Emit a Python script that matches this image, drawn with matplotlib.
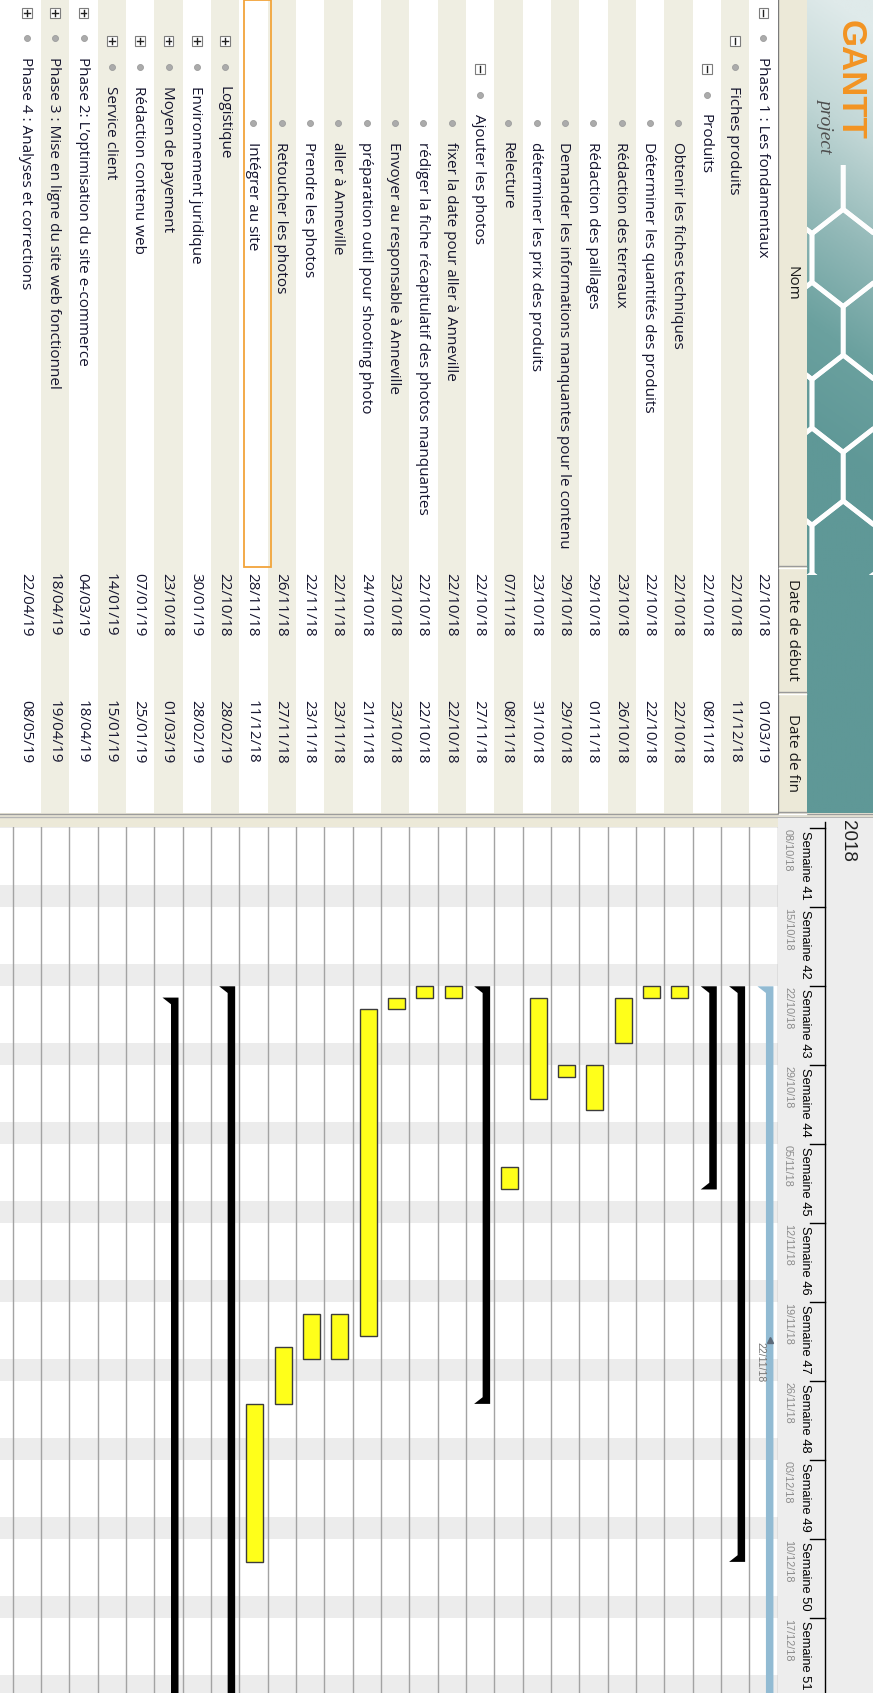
import datetime as dt
import numpy as np
import matplotlib
matplotlib.use('Agg')
import matplotlib.pyplot as plt
import matplotlib.dates as mdates
from matplotlib.patches import Rectangle, Polygon
from matplotlib.colors import LinearSegmentedColormap

# ---------------- data ----------------
task_names = [
    "Phase 1 : Les fondamentaux",
    "Fiches produits",
    "Produits",
    "Obtenir les fiches techniques",
    "Déterminer les quantités des produits",
    "Rédaction des terreaux",
    "Rédaction des paillages",
    "Demander les informations manquantes pour le contenu",
    "déterminer les prix des produits",
    "Relecture",
    "Ajouter les photos",
    "fixer la date pour aller à Anneville",
    "rédiger la fiche récapitulatif des photos manquantes",
    "Envoyer au responsable à Anneville",
    "préparation outil pour shooting photo",
    "aller à Anneville",
    "Prendre les photos",
    "Retoucher les photos",
    "Intégrer au site",
    "Logistique",
    "Environnement juridique",
    "Moyen de payement",
    "Rédaction contenu web",
    "Service client",
    "Phase 2: L\u2019optimisation du site e-commerce",
    "Phase 3 : Mise en ligne du site web fonctionnel",
    "Phase 4 : Analyses et corrections",
]
start_dates = ["22/10/18", "22/10/18", "22/10/18", "22/10/18", "22/10/18", "23/10/18",
               "29/10/18", "29/10/18", "23/10/18", "07/11/18", "22/10/18", "22/10/18",
               "22/10/18", "23/10/18", "24/10/18", "22/11/18", "22/11/18", "26/11/18",
               "28/11/18", "22/10/18", "30/01/19", "23/10/18", "07/01/19", "14/01/19",
               "04/03/19", "18/04/19", "22/04/19"]
end_dates = ["01/03/19", "11/12/18", "08/11/18", "22/10/18", "22/10/18", "26/10/18",
             "01/11/18", "29/10/18", "31/10/18", "08/11/18", "27/11/18", "22/10/18",
             "22/10/18", "23/10/18", "21/11/18", "23/11/18", "23/11/18", "27/11/18",
             "11/12/18", "28/02/19", "28/02/19", "01/03/19", "25/01/19", "15/01/19",
             "18/04/19", "19/04/19", "08/05/19"]
# bar starts as drawn in the chart (a few bars begin earlier than the table shows)
bar_start_dates = ["22/10/18", "22/10/18", "22/10/18", "22/10/18", "22/10/18", "23/10/18",
                   "29/10/18", "29/10/18", "23/10/18", "07/11/18", "22/10/18", "22/10/18",
                   "22/10/18", "23/10/18", "24/10/18", "20/11/18", "20/11/18", "23/11/18",
                   "28/11/18", "22/10/18", "30/01/19", "23/10/18", "07/01/19", "14/01/19",
                   "04/03/19", "18/04/19", "22/04/19"]
levels = [0, 1, 2, 3, 3, 3, 3, 3, 3, 3, 2, 3, 3, 3, 3, 3, 3, 3, 3, 1, 1, 1, 1, 1, 0, 0, 0]
# 'open' = expanded summary, 'closed' = collapsed summary, '' = leaf task
node_state = ['open', 'open', 'open', '', '', '', '', '', '', '', 'open', '', '', '', '', '',
              '', '', '', 'closed', 'closed', 'closed', 'closed', 'closed', 'closed',
              'closed', 'closed']
column_headers = ["Nom", "Date de début", "Date de fin"]
marker_date = "22/11/18"
year_label = "2018"
selected_row = 18

# ---------------- layout constants ----------------
W, H, DPI = 873, 1693, 100
ROW_PX = 28.33
ROW0_TOP = 777.6
XL = (ROW0_TOP / ROW_PX - 0.5, -0.5)
TABLE_BOTTOM = 813
HEAD_TOP = 818
CHART_TOP = 827
DAY_PX = 11.286
ORIGIN = dt.datetime(2018, 10, 8)
ORIGIN_PX = 828.3

FAM = ['Open Sans', 'DejaVu Sans']
FAM2 = ['Liberation Sans', 'DejaVu Sans']
TXT = '#15152e'


def pdate(s):
    return dt.datetime.strptime(s, "%d/%m/%y")


def num(d):
    return mdates.date2num(d)


def date_at_px(p):
    return num(ORIGIN) + (p - ORIGIN_PX) / DAY_PX


fig = plt.figure(figsize=(W / DPI, H / DPI), dpi=DPI)
fig.patch.set_facecolor('white')

# ---------------- background / decorations ----------------
bg = fig.add_axes([0, 0, 1, 1], zorder=0)
bg.set_xlim(0, W)
bg.set_ylim(H, 0)
bg.axis('off')

yy, xx = np.mgrid[0:813:400j, 807:873:40j]
v = np.clip(yy / 450 - (xx - 807) / 66 * 0.10 + 0.04, 0, 1)
teal = LinearSegmentedColormap.from_list(
    'teal', ['#dfeaea', '#c2d7d6', '#93b9b8', '#6ba19f', '#5f9897'])
bg.imshow(v, extent=(807, 873, 813, 0), cmap=teal, vmin=0, vmax=1,
          aspect='auto', origin='upper', zorder=1, interpolation='bilinear')

clip = Rectangle((807, 165), 66, 410, transform=bg.transData)
r = 36
for rr in range(-1, 8):
    for cc in range(-1, 3):
        cx = 812 + cc * r * np.sqrt(3) + (rr % 2) * r * np.sqrt(3) / 2
        cy = 185 + rr * r * 1.5 * 1.35
        ang = np.deg2rad(np.arange(6) * 60 + 30)
        verts = np.column_stack([cx + r * np.cos(ang), cy + 1.35 * r * np.sin(ang)])
        hp = Polygon(verts, closed=True, fill=False, ec='white', lw=3.4,
                     alpha=0.95, zorder=2)
        bg.add_patch(hp)
        hp.set_clip_path(clip)

bg.text(850, 20, "GANTT", rotation=-90, ha='center', va='top', fontsize=25,
        fontweight='bold', color='#f39422', family=FAM2, zorder=3)
bg.text(826, 98, "project", rotation=-90, ha='center', va='top', fontsize=14,
        style='italic', color='#4d4d4d', family=['Liberation Serif', 'DejaVu Serif'],
        zorder=3)

# table header strip
bg.add_patch(Rectangle((ROW0_TOP, 0), 807 - ROW0_TOP, TABLE_BOTTOM, fc='#ece9d8',
                       ec='none', zorder=1))
bg.plot([778.3, 778.3], [0, TABLE_BOTTOM], color='#7a7a7a', lw=1.0, zorder=3)
col_bounds = [0, 567, 693, 813]
for yb in col_bounds[1:]:
    bg.plot([779, 806], [yb - 1, yb - 1], color='#9a9a9a', lw=1.0, zorder=3)
    bg.plot([779, 806], [yb + 0.6, yb + 0.6], color='white', lw=1.0, zorder=3)
for k, lab in enumerate(column_headers):
    bg.text(792.5, (col_bounds[k] + col_bounds[k + 1]) / 2, lab, rotation=-90,
            ha='center', va='center', fontsize=11, color='#1a1a1a', family=FAM, zorder=3)

# splitter between table and chart
bg.add_patch(Rectangle((0, TABLE_BOTTOM), W, CHART_TOP - TABLE_BOTTOM, fc='#ece9d8',
                       ec='none', zorder=1))
bg.plot([0, W], [814.3, 814.3], color='#9c9c9c', lw=1.0, zorder=2)
bg.plot([0, W], [816.8, 816.8], color='#b5b5b5', lw=1.0, zorder=2)

# ---------------- table ----------------
tab = fig.add_axes([0, 1 - TABLE_BOTTOM / H, ROW0_TOP / W, TABLE_BOTTOM / H], zorder=2)
tab.set_xlim(*XL)
tab.set_ylim(TABLE_BOTTOM, 0)
tab.axis('off')

row_colors = ['white', '#efeee2']
n = len(task_names)
for i in range(n):
    tab.axvspan(i - 0.5, i + 0.5, color=row_colors[i % 2], lw=0, zorder=0)

name_clip = Rectangle((-0.5, 0), n + 1, 565, transform=tab.transData)
for i, name in enumerate(task_names):
    L = levels[i]
    if node_state[i]:
        yc = 12.5 + 28.3 * L
        tab.add_patch(Rectangle((i - 0.17, yc - 5), 0.34, 10, fc='white',
                                ec='#7d7d7d', lw=0.8, zorder=2))
        tab.plot([i, i], [yc - 3, yc + 3], color='#202020', lw=1.0, zorder=3)
        if node_state[i] == 'closed':
            tab.plot([i - 0.1, i + 0.1], [yc, yc], color='#202020', lw=1.0, zorder=3)
    tab.plot(i, 38.3 + 28.3 * L, 'o', ms=4.3, color='#ababab', mec='#9c9c9c',
             mew=0.6, zorder=2)
    t = tab.text(i + 0.05, 57 + 28.5 * L, name, rotation=-90, ha='center', va='top',
                 fontsize=11, color=TXT, family=FAM, zorder=3)
    t.set_clip_path(name_clip)
    tab.text(i + 0.05, 573, start_dates[i], rotation=-90, ha='center', va='top',
             fontsize=11, color=TXT, family=FAM, zorder=3)
    tab.text(i + 0.05, 700, end_dates[i], rotation=-90, ha='center', va='top',
             fontsize=11, color=TXT, family=FAM, zorder=3)

tab.add_patch(Rectangle((selected_row - 0.62, 0), 0.96, 567, fill=False,
                        ec='#f2a43a', lw=1.3, zorder=4))

# ---------------- chart ----------------
ax = fig.add_axes([0, 0, ROW0_TOP / W, (H - CHART_TOP) / H], zorder=2)
ax.set_xlim(*XL)
ax.set_ylim(date_at_px(H), date_at_px(CHART_TOP))
ax.axis('off')

d = dt.datetime(2018, 10, 6)
while num(d) < date_at_px(H):
    ax.axhspan(num(d), num(d) + 2, color='#ececec', lw=0, zorder=0)
    d += dt.timedelta(days=7)

for k in range(n + 1):
    ax.axvline(k - 0.5, color='#a3a3a3', lw=1.0, zorder=1)

FL = 0.59  # flare length in days
for i in range(n):
    s = num(pdate(bar_start_dates[i]))
    e = num(pdate(end_dates[i])) + 1
    if node_state[i]:
        col = '#92bbd3' if i == 0 else 'black'
        verts = [(i + 0.212, s), (i - 0.353, s), (i - 0.353, e), (i + 0.212, e),
                 (i - 0.088, e - FL), (i - 0.088, s + FL)]
        ax.add_patch(Polygon(verts, closed=True, fc=col, ec='none', zorder=3))
    else:
        ax.bar(i - 0.053, e - s, bottom=s, width=0.6, color='#ffff1a',
               edgecolor='#3c3c3c', lw=1.0, zorder=3)

md = num(pdate(marker_date))
ax.plot(-0.23, md + 0.35, marker='^', ms=4, color='#5d6b7a', zorder=5, clip_on=False)
ax.text(0.12, md + 0.55, marker_date, rotation=-90, ha='center', va='top', fontsize=7.5,
        color='#777777', family=FAM2, zorder=5)

# ---------------- chart header ----------------
hx = fig.add_axes([ROW0_TOP / W, 0, (W - ROW0_TOP) / W, (H - HEAD_TOP) / H], zorder=2)
hx.set_xlim(ROW0_TOP, W)
hx.set_ylim(date_at_px(H), date_at_px(HEAD_TOP))
hx.set_facecolor('#ededed')
hx.set_xticks([])
hx.set_yticks([])
for sp in hx.spines.values():
    sp.set_visible(False)

hx.plot([825, 825], [date_at_px(822), date_at_px(H)], color='black', lw=1.0)
hx.text(847, date_at_px(820), year_label, rotation=-90, ha='center', va='top',
        fontsize=13.5, color='#222222', family=FAM2)
m = ORIGIN
while num(m) < date_at_px(H):
    y = num(m)
    hx.plot([810, 825], [y, y], color='black', lw=1.0)
    hx.text(805, y + 0.27, "Semaine %d" % m.isocalendar()[1], rotation=-90,
            ha='center', va='top', fontsize=9.3, color='black', family=FAM2)
    hx.text(788, y + 0.05, m.strftime("%d/%m/%y"), rotation=-90, ha='center', va='top',
            fontsize=7.8, color='#8c8c8c', family=FAM2)
    m += dt.timedelta(days=7)

fig.savefig('out.png', dpi=DPI)
